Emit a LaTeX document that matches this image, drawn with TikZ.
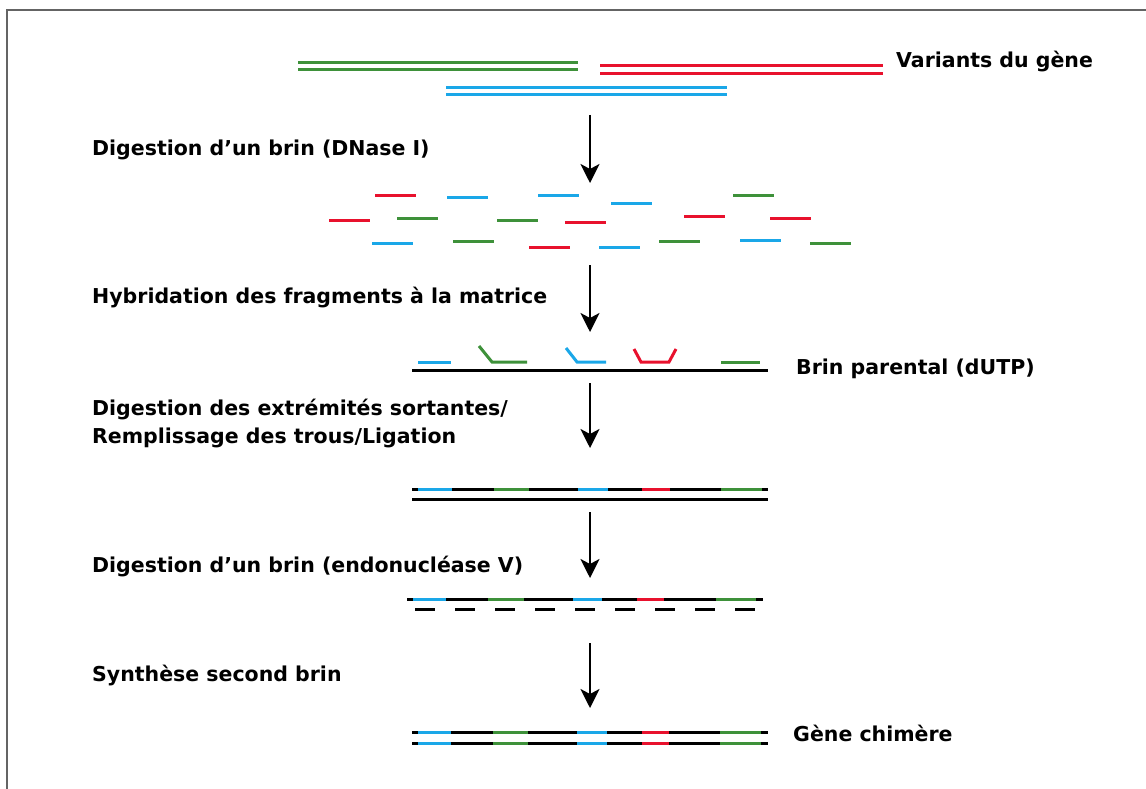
\documentclass[tikz,border=0pt]{standalone}
\usepackage{fontspec}
\setmainfont{DejaVu Sans}
\usetikzlibrary{arrows.meta}
\definecolor{dgreen}{RGB}{62,145,58}
\definecolor{dred}{RGB}{232,17,45}
\definecolor{dblue}{RGB}{26,167,232}
\definecolor{frame}{RGB}{100,100,100}
\tikzset{
  lbl/.style={anchor=mid west, inner sep=0pt, font=\bfseries\fontsize{20.5}{23}\selectfont},
  strand/.style={line width=3pt},
  stepar/.style={line width=2.2pt, -{Stealth[length=19pt,width=19pt,inset=5pt]}},
  dashstrand/.style={line width=3pt, dash pattern=on 20pt off 20pt},
}
\begin{document}
\begin{tikzpicture}[x=1pt,y=-1pt]
\useasboundingbox (0,0) rectangle (1146,789);
% frame
\draw[frame, line width=1.5pt] (7,789) -- (7,10) -- (1146,10);

% gene variants
\draw[strand,dgreen] (298,62.5) -- (578,62.5) (298,69.5) -- (578,69.5);
\draw[strand,dred] (600,66) -- (883,66) (600,73.5) -- (883,73.5);
\draw[strand,dblue] (446,88) -- (727,88) (446,95) -- (727,95);
\node[lbl] (variants) at (896,65) {Variants du gène};

% step 1
\node[lbl] (t1) at (92,153) {Digestion d’un brin (DNase I)};
\coordinate (a1s) at (590,115); \coordinate (a1e) at (590,183);
\draw[stepar] (a1s) -- (a1e);

% fragments
\foreach \xa/\y/\c in {375/195/dred, 447/197/dblue, 538/195/dblue, 611/203/dblue, 733/195/dgreen,
  329/220/dred, 397/218/dgreen, 497/220/dgreen, 565/222/dred, 684/216.5/dred, 770/218.5/dred,
  372/243/dblue, 453/241.5/dgreen, 529/247.5/dred, 599/247.5/dblue, 659/241.5/dgreen, 740/240/dblue, 810/243/dgreen}
  \draw[strand,\c] (\xa,\y) -- ++(41,0);

% step 2
\node[lbl] (t2) at (92,301) {Hybridation des fragments à la matrice};
\coordinate (a2s) at (590,265); \coordinate (a2e) at (590,332);
\draw[stepar] (a2s) -- (a2e);

% hybridised fragments
\draw[strand,black] (412,370) -- (768,370);
\draw[strand,dblue] (418,362) -- (451,362);
\draw[strand,dgreen] (479,346) -- (492,362) -- (527,362);
\draw[strand,dblue] (566,348) -- (577,362) -- (606,362);
\draw[strand,dred] (634,349) -- (641,362) -- (669,362) -- (676,349);
\draw[strand,dgreen] (721,362) -- (760,362);
\node[lbl] (parental) at (796,372) {Brin parental (dUTP)};

% step 3
\node[lbl] (t3a) at (92,413) {Digestion des extrémités sortantes/};
\node[lbl] (t3b) at (92,441) {Remplissage des trous/Ligation};
\coordinate (a3s) at (590,383); \coordinate (a3e) at (590,448);
\draw[stepar] (a3s) -- (a3e);

\draw[strand,black] (412,489) -- (768,489);
\foreach \xa/\xb/\c in {418/452/dblue, 494/529/dgreen, 578/608/dblue, 642/670/dred, 721/762/dgreen}
  \draw[strand,\c] (\xa,489) -- (\xb,489);
\draw[strand,black] (412,499) -- (768,499);

% step 4
\node[lbl] (t4) at (92,570) {Digestion d’un brin (endonucléase V)};
\coordinate (a4s) at (590,512); \coordinate (a4e) at (590,578);
\draw[stepar] (a4s) -- (a4e);

\draw[strand,black] (407,599) -- (763,599);
\foreach \xa/\xb/\c in {413/446/dblue, 488/524/dgreen, 573/602/dblue, 637/664/dred, 716/756/dgreen}
  \draw[strand,\c] (\xa,599) -- (\xb,599);
\draw[dashstrand,black] (415,609.5) -- (755,609.5);

% step 5
\node[lbl] (t5) at (92,679) {Synthèse second brin};
\coordinate (a5s) at (590,643); \coordinate (a5e) at (590,708);
\draw[stepar] (a5s) -- (a5e);

\foreach \y in {732,743.5}{
  \draw[strand,black] (412,\y) -- (768,\y);
  \foreach \xa/\xb/\c in {418/451/dblue, 493/528/dgreen, 577/607/dblue, 642/669/dred, 720/761/dgreen}
    \draw[strand,\c] (\xa,\y) -- (\xb,\y);
}
\node[lbl] (chim) at (793,739) {Gène chimère};
\end{tikzpicture}
\end{document}
